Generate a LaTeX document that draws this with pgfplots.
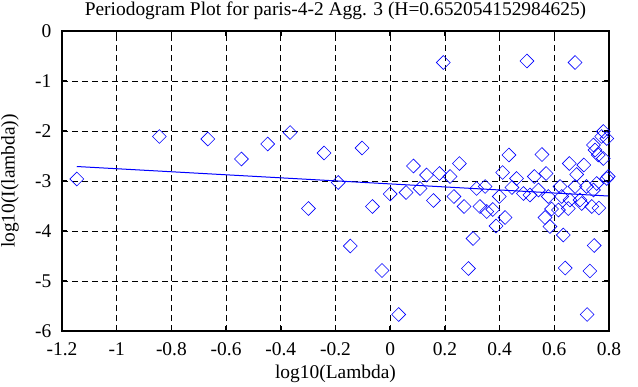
\documentclass[border=0pt]{standalone}
\usepackage{fontspec}
\setmainfont{Liberation Serif}
\usepackage{pgfplots}
\pgfplotsset{compat=1.18}
\begin{document}
\fontsize{19.5}{23}\selectfont
\begin{tikzpicture}
\begin{axis}[
  scale only axis, width=547bp, height=300bp,
  xmin=-1.2, xmax=0.8, ymin=-6, ymax=0,
  xtick={-1.2,-1,-0.8,-0.6,-0.4,-0.2,0,0.2,0.4,0.6,0.8},
  xticklabels={-1.2,-1,-0.8,-0.6,-0.4,-0.2,0,0.2,0.4,0.6,0.8},
  ytick={-6,-5,-4,-3,-2,-1,0},
  yticklabels={-6,-5,-4,-3,-2,-1,0},
  tick align=inside, major tick length=5bp,
  tick style={line width=1.5bp, black},
  axis line style={line width=2bp},
  grid=major,
  grid style={dash pattern=on 6bp off 4bp, black, line width=0.8bp},
  xticklabel style={yshift=-5bp},
  yticklabel style={xshift=-4bp},
  title={Periodogram Plot for paris-4-2 Agg. 3 (H=0.652054152984625)},
  every axis title/.style={at={(axis description cs:0.5,1.051)}, anchor=base, inner sep=0pt},
  xlabel={log10(Lambda)},
  xlabel style={at={(axis description cs:0.5,-0.1567)}, anchor=base, inner sep=0pt},
  ylabel={log10(I(lambda))},
  ylabel style={at={(axis description cs:-0.095,0.5)}, anchor=center, inner sep=0pt},
  clip=false,
]
\addplot[only marks, mark=square, mark size=4.9bp,
  mark options={rotate=45, draw=blue, line width=0.6bp}] coordinates {
(-1.146,-2.96) (-0.844,-2.11) (-0.667,-2.16) (-0.544,-2.56) (-0.448,-2.26)
(-0.366,-2.03) (-0.299,-3.55) (-0.242,-2.44) (-0.190,-3.03) (-0.146,-4.30)
(-0.103,-2.34) (-0.065,-3.51) (-0.030,-4.79) (0.000,-3.26) (0.031,-5.67)
(0.058,-3.23) (0.085,-2.70) (0.109,-3.15) (0.133,-2.88) (0.158,-3.39)
(0.180,-2.85) (0.194,-0.63) (0.219,-2.91) (0.233,-3.31) (0.253,-2.65)
(0.270,-3.51) (0.286,-4.75) (0.303,-4.15) (0.316,-3.15) (0.328,-3.51)
(0.347,-3.11) (0.353,-3.61) (0.375,-3.57) (0.387,-3.90) (0.399,-3.31)
(0.411,-2.83) (0.420,-3.73) (0.434,-2.48) (0.445,-3.13) (0.462,-2.95)
(0.487,-3.25) (0.500,-0.60) (0.511,-3.28) (0.527,-2.91) (0.542,-3.18)
(0.555,-2.47) (0.566,-3.73) (0.570,-2.85) (0.578,-3.31) (0.584,-3.91)
(0.590,-3.56) (0.615,-3.58) (0.621,-3.11) (0.627,-3.31) (0.633,-4.08)
(0.640,-4.74) (0.651,-3.55) (0.655,-2.65) (0.657,-3.38) (0.676,-0.63)
(0.676,-3.11) (0.682,-2.87) (0.694,-3.38) (0.700,-3.45) (0.708,-2.68)
(0.718,-3.11) (0.720,-5.67) (0.730,-4.80) (0.737,-3.51) (0.743,-3.18)
(0.743,-2.28) (0.746,-4.29) (0.749,-2.38) (0.755,-3.05) (0.761,-2.48)
(0.763,-3.54) (0.773,-2.11) (0.779,-2.55) (0.779,-2.01) (0.792,-2.15)
(0.792,-2.95) (0.797,-2.91)
};
\addplot[blue, line width=1bp, no marks] coordinates {(-1.146,-2.71) (0.797,-3.30)};
\end{axis}
\pgfresetboundingbox
\path[use as bounding box] (-62bp,-56bp) rectangle (576bp,331bp);
\end{tikzpicture}
\end{document}
